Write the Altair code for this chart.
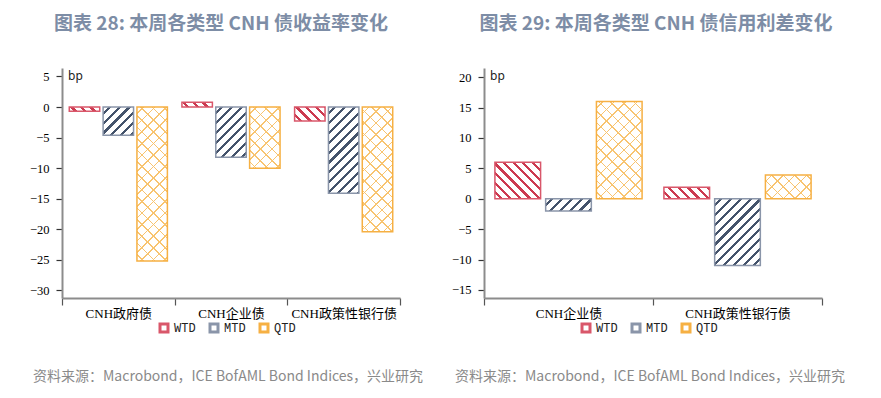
import math
import altair as alt
import pandas as pd

# ---------------- data ----------------
SERIES = ["WTD", "MTD", "QTD"]

YIELD_CATEGORIES = ["CNH政府债", "CNH企业债", "CNH政策性银行债"]
YIELD_WTD = [-0.7, 0.8, -2.3]
YIELD_MTD = [-4.6, -8.2, -14.1]
YIELD_QTD = [-25.2, -10.0, -20.4]
YIELD_TICKS = [-30, -25, -20, -15, -10, -5, 0, 5]

SPREAD_CATEGORIES = ["CNH企业债", "CNH政策性银行债"]
SPREAD_WTD = [6.0, 1.9]
SPREAD_MTD = [-2.0, -11.0]
SPREAD_QTD = [16.0, 3.9]
SPREAD_TICKS = [-15, -10, -5, 0, 5, 10, 15, 20]

TITLE_LEFT = "图表 28: 本周各类型 CNH 债收益率变化"
TITLE_RIGHT = "图表 29: 本周各类型 CNH 债信用利差变化"
SOURCE = "资料来源：Macrobond，ICE BofAML Bond Indices，兴业研究"
UNIT = "bp"

# ---------------- style ----------------
PLOT_W = 338
PLOT_H = 230
PAD_INNER = 0.1
PAD_OUTER = 0.215
YIELD_DOMAIN = [-31.25, 6.39]
SPREAD_DOMAIN = [-16.33, 21.5]
STROKE_COLORS = ["#d9576a", "#8a95a9", "#f6b043"]
HATCH = {
    "WTD": ("#cc3a50", "\\", 6.8, 2.3),
    "MTD": ("#44536b", "/", 7.0, 2.2),
}
CROSS_COLOR = "#f8c470"
CJK = "Noto Sans CJK SC"
SERIF = "Liberation Serif, Noto Sans CJK SC"


def stripes(W, H, color, direction, period, thick, bg):
    """Linear gradient that renders 45-degree stripes inside a W x H bar."""
    D = (W + H) / math.sqrt(2)
    s = (W + H) * W * H / (W * W + H * H)
    if direction == "/":
        x1, y1, x2, y2 = 0, 0, s / H, s / W
    else:
        x1, y1, x2, y2 = 0, 1, s / H, 1 - s / W
    p = period / D
    t = thick / D
    stops = [(0.0, bg)]
    a = p * 0.5
    while a < 1:
        b = min(a + t, 1.0)
        stops += [(a, bg), (a, color), (b, color), (b, bg)]
        a += p
    stops.append((1.0, bg))
    return alt.LinearGradient(
        gradient="linear",
        x1=round(x1, 5), y1=round(y1, 5), x2=round(x2, 5), y2=round(y2, 5),
        stops=[alt.GradientStop(offset=round(o, 5), color=c) for o, c in stops],
    )


def panel(cats, wtd, mtd, qtd, ticks, domain, title, title_dx):
    rows = []
    for i, c in enumerate(cats):
        for s, vals in zip(SERIES, [wtd, mtd, qtd]):
            rows.append({"category": c, "series": s, "value": vals[i]})
    df = pd.DataFrame(rows)

    band = PLOT_W / len(cats)
    step = band / (len(SERIES) - PAD_INNER + 2 * PAD_OUTER)
    W = step * (1 - PAD_INNER)
    ppu = PLOT_H / (domain[1] - domain[0])

    x = alt.X(
        "category:N", sort=cats,
        scale=alt.Scale(domain=cats, paddingInner=0, paddingOuter=0),
        axis=alt.Axis(title=None, labelAngle=0, tickBand="extent"),
    )
    xo = alt.XOffset(
        "series:N", sort=SERIES,
        scale=alt.Scale(domain=SERIES, paddingInner=PAD_INNER, paddingOuter=PAD_OUTER),
    )
    y = alt.Y(
        "value:Q",
        scale=alt.Scale(domain=domain, nice=False, zero=False),
        axis=alt.Axis(title=None, values=ticks),
    )
    base = alt.Chart(df).encode(x=x, xOffset=xo, y=y)

    layers = []
    for row in df.itertuples():
        H = max(abs(row.value) * ppu, 1.0)
        flt = (alt.datum.category == row.category) & (alt.datum.series == row.series)
        if row.series == "QTD":
            for d in ["/", "\\"]:
                g = stripes(W, H, CROSS_COLOR, d, 8.2, 1.1, "rgba(255,255,255,0)")
                layers.append(base.transform_filter(flt).mark_bar(fill=g))
        else:
            color, d, per, th = HATCH[row.series]
            g = stripes(W, H, color, d, per, th, "#ffffff")
            layers.append(base.transform_filter(flt).mark_bar(fill=g))

    outline = base.mark_bar(fill="#ffffff", fillOpacity=0, strokeWidth=1.5).encode(
        stroke=alt.Stroke(
            "series:N", sort=SERIES,
            scale=alt.Scale(domain=SERIES, range=STROKE_COLORS),
            legend=alt.Legend(
                title=None, orient="none", legendX=96, legendY=254,
                direction="horizontal", symbolType="square", symbolSize=64,
                symbolStrokeWidth=3, symbolFillColor="#ffffff",
                labelFont="Liberation Mono", labelFontSize=12,
                labelColor="#222222", columnPadding=8, labelOffset=4,
            ),
        )
    )

    unit = alt.Chart(pd.DataFrame({"label": [UNIT]})).mark_text(
        align="left", baseline="middle", font="Noto Sans", fontSize=12, color="#222222"
    ).encode(text="label:N", x=alt.value(6), y=alt.value(8.4))

    source = alt.Chart(pd.DataFrame({"label": [SOURCE]})).mark_text(
        align="left", baseline="middle", font=CJK, fontSize=14, color="#8a8a8a"
    ).encode(text="label:N", x=alt.value(-29), y=alt.value(308.7))

    return alt.layer(*layers, outline, unit, source).properties(
        width=PLOT_W, height=PLOT_H,
        title=alt.TitleParams(
            text=title, font=CJK, fontSize=19, fontWeight="bold",
            color="#7d8da6", anchor="middle", offset=34, dx=title_dx,
        ),
    )


left = panel(YIELD_CATEGORIES, YIELD_WTD, YIELD_MTD, YIELD_QTD, YIELD_TICKS,
             YIELD_DOMAIN, TITLE_LEFT, -10)
right = panel(SPREAD_CATEGORIES, SPREAD_WTD, SPREAD_MTD, SPREAD_QTD, SPREAD_TICKS,
              SPREAD_DOMAIN, TITLE_RIGHT, 3)

chart = (
    alt.hconcat(left, right, spacing=84, bounds="flush")
    .resolve_scale(x="independent", y="independent", xOffset="independent", stroke="independent")
    .resolve_legend(stroke="independent")
    .properties(padding={"left": 21, "top": 7, "right": 5, "bottom": 5}, background="#ffffff")
    .configure_view(stroke=None)
    .configure_axisY(
        domainColor="#8c8c8c", domainWidth=2, tickColor="#333333", tickSize=6,
        tickWidth=1.2, labelFont=SERIF, labelFontSize=12.5, labelColor="#000000",
        labelPadding=7, grid=False,
    )
    .configure_axisX(
        domainColor="#8c8c8c", domainWidth=2, tickColor="#555555", tickSize=7,
        tickWidth=1.2, labelFont=SERIF, labelFontSize=13, labelColor="#000000",
        labelPadding=2, grid=False,
    )
)

chart.save("out.html", embed_options={"renderer": "svg", "actions": False})
